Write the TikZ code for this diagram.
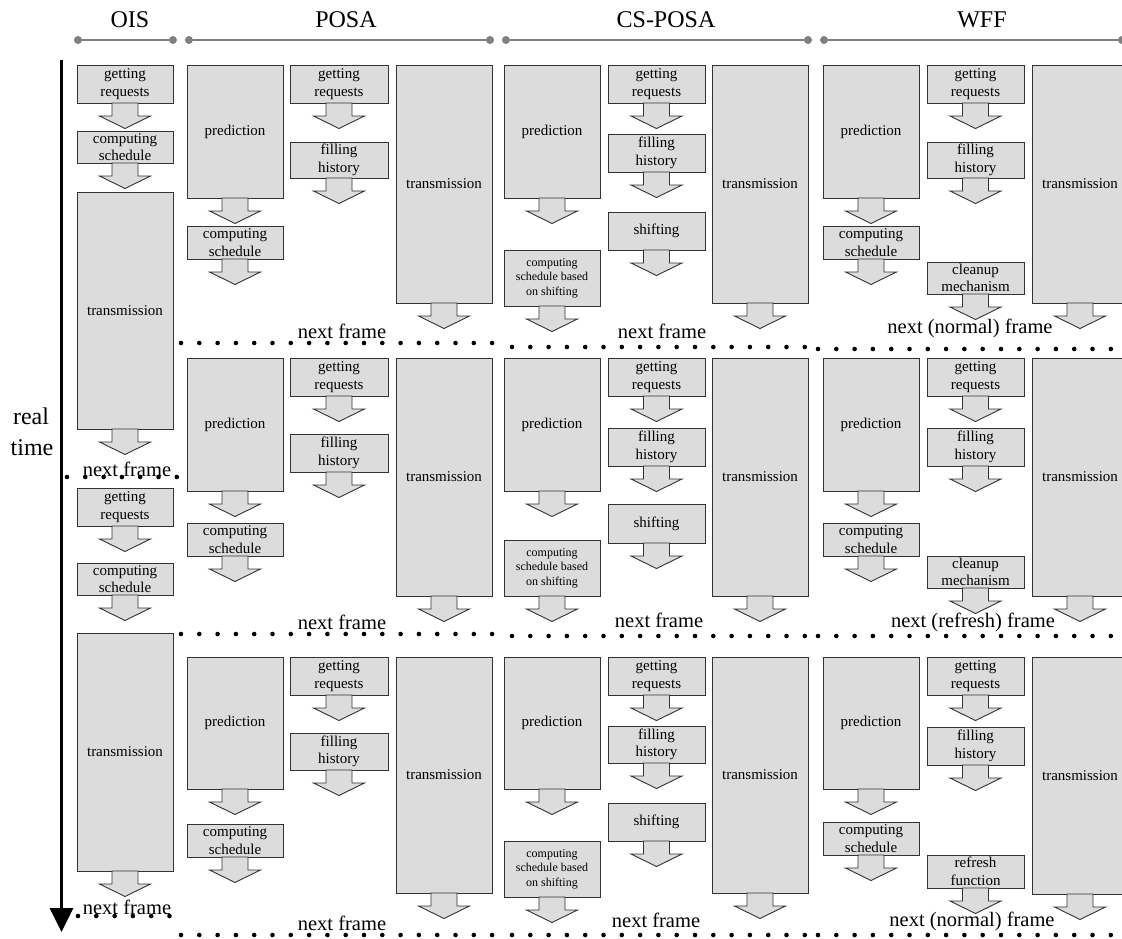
\documentclass[tikz,border=0pt]{standalone}
\usepackage{fontspec}
\setmainfont{Liberation Serif}
\usetikzlibrary{arrows.meta}

\definecolor{boxfill}{HTML}{DCDCDC}
\definecolor{boxline}{HTML}{333333}
\definecolor{bargray}{HTML}{808080}

\tikzset{
  blkbox/.style={draw=boxline, fill=boxfill, line width=0.9pt, inner sep=0pt,
    outer sep=0pt, align=center, font=\fontsize{15}{17.5}\selectfont},
  blkarrow/.style={draw=boxline, fill=boxfill, line width=0.9pt, line join=miter},
  smalltext/.style={font=\fontsize{12}{14.5}\selectfont},
  frametext/.style={anchor=base, inner sep=0pt, font=\fontsize{20.5}{24}\selectfont},
  headtext/.style={anchor=base, inner sep=0pt, font=\fontsize{24}{28}\selectfont},
  dotrow/.style={line width=4.6pt, line cap=round, dash pattern=on 0pt off 18.3pt},
  bar/.style={draw=bargray, line width=2pt},
}

% step box with its outgoing down arrow: [options]{name}{x1}{y1}{x2}{y2}{text}
\newcommand\blk[7][]{%
  \node[blkbox,#1,minimum width={(#5)-(#3)},minimum height={(#6)-(#4)}]
    (#2) at ({((#3)+(#5))/2},{((#4)+(#6))/2}) {#7};
  \draw[blkarrow] ([xshift=-13pt]#2.south) -- ++(0,13) -- ++(-12.5,0)
    -- ++(25.5,12.5) -- ++(25.5,-12.5) -- ++(-12.5,0) -- ++(0,-13) -- cycle;
}

\begin{document}
\begin{tikzpicture}[x=1pt,y=-1pt]
\useasboundingbox (0,0) rectangle (1122,938);
\clip (0,0) rectangle (1122,938);

% ---- column headers ----
\node[headtext] (hOIS)  at (130,27) {OIS};
\node[headtext] (hPOSA) at (346,27) {POSA};
\node[headtext] (hCS)   at (666,27) {CS-POSA};
\node[headtext] (hWFF)  at (982,27) {WFF};
\foreach \a/\b in {78/173, 189/490, 506/808, 824/1122}{
  \draw[bar] (\a,40) -- (\b,40);
  \fill[bargray] (\a,40) circle (4pt) (\b,40) circle (4pt);
}

% ---- time axis ----
\coordinate (tTop) at (61.5,60);
\coordinate (tEnd) at (61.5,932);
\draw[line width=3pt, -{Triangle[width=23pt,length=24pt]}] (tTop) -- (tEnd);
\node[anchor=base, inner sep=0pt, font=\fontsize{24}{28}\selectfont] (lReal) at (31,424) {real};
\node[anchor=base, inner sep=0pt, font=\fontsize{24}{28}\selectfont] (lTime) at (32,455) {time};

% ---- OIS ----
\blk{oReq1}{77}{65}{173}{103}{getting\\requests}
\blk{oSch1}{77}{131}{173}{163}{computing\\schedule}
\blk{oTx1}{77}{192}{173}{429}{transmission}
\blk{oReq2}{77}{488}{173}{526}{getting\\requests}
\blk{oSch2}{77}{563}{173}{595}{computing\\schedule}
\blk{oTx2}{77}{633}{173}{871}{transmission}

% ---- POSA ----
\blk{pPred1}{187}{65}{283}{198}{prediction}
\blk{pSch1}{187}{226}{283}{259}{computing\\schedule}
\blk{pReq1}{290}{65}{388}{103}{getting\\requests}
\blk{pFill1}{290}{142}{388}{178}{filling\\history}
\blk{pTx1}{396}{65}{492}{303}{transmission}

\blk{pPred2}{187}{358}{283}{491}{prediction}
\blk{pSch2}{187}{523}{283}{556}{computing\\schedule}
\blk{pReq2}{290}{358}{388}{396}{getting\\requests}
\blk{pFill2}{290}{434}{388}{472}{filling\\history}
\blk{pTx2}{396}{358}{492}{596}{transmission}

\blk{pPred3}{187}{657}{283}{789}{prediction}
\blk{pSch3}{187}{824}{283}{857}{computing\\schedule}
\blk{pReq3}{290}{657}{388}{695}{getting\\requests}
\blk{pFill3}{290}{733}{388}{770}{filling\\history}
\blk{pTx3}{396}{657}{492}{893}{transmission}

% ---- CS-POSA ----
\blk{cPred1}{504}{65}{600}{198}{prediction}
\blk[smalltext]{cSch1}{504}{250}{600}{306}{computing\\schedule based\\on shifting}
\blk{cReq1}{608}{65}{705}{103}{getting\\requests}
\blk{cFill1}{608}{134}{705}{172}{filling\\history}
\blk{cShift1}{608}{212}{705}{250}{shifting}
\blk{cTx1}{712}{65}{808}{303}{transmission}

\blk{cPred2}{504}{358}{600}{491}{prediction}
\blk[smalltext]{cSch2}{504}{540}{600}{596}{computing\\schedule based\\on shifting}
\blk{cReq2}{608}{358}{705}{396}{getting\\requests}
\blk{cFill2}{608}{428}{705}{466}{filling\\history}
\blk{cShift2}{608}{504}{705}{543}{shifting}
\blk{cTx2}{712}{358}{808}{596}{transmission}

\blk{cPred3}{504}{657}{600}{789}{prediction}
\blk[smalltext]{cSch3}{504}{841}{600}{897}{computing\\schedule based\\on shifting}
\blk{cReq3}{608}{657}{705}{695}{getting\\requests}
\blk{cFill3}{608}{726}{705}{763}{filling\\history}
\blk{cShift3}{608}{803}{705}{841}{shifting}
\blk{cTx3}{712}{657}{808}{893}{transmission}

% ---- WFF ----
\blk{wPred1}{823}{65}{919}{198}{prediction}
\blk{wSch1}{823}{226}{919}{259}{computing\\schedule}
\blk{wReq1}{927}{65}{1024}{103}{getting\\requests}
\blk{wFill1}{927}{142}{1024}{178}{filling\\history}
\blk{wClean1}{927}{262}{1024}{294}{cleanup\\mechanism}
\blk{wTx1}{1032}{65}{1128}{303}{transmission}

\blk{wPred2}{823}{358}{919}{491}{prediction}
\blk{wSch2}{823}{523}{919}{556}{computing\\schedule}
\blk{wReq2}{927}{358}{1024}{396}{getting\\requests}
\blk{wFill2}{927}{428}{1024}{466}{filling\\history}
\blk{wClean2}{927}{556}{1024}{588}{cleanup\\mechanism}
\blk{wTx2}{1032}{358}{1128}{596}{transmission}

\blk{wPred3}{823}{657}{919}{789}{prediction}
\blk{wSch3}{823}{822}{919}{855}{computing\\schedule}
\blk{wReq3}{927}{657}{1024}{695}{getting\\requests}
\blk{wFill3}{927}{727}{1024}{765}{filling\\history}
\blk{wRef3}{927}{855}{1024}{888}{refresh\\function}
\blk{wTx3}{1032}{657}{1128}{894}{transmission}

% ---- frame boundaries ----
\draw[dotrow] (67,477) -- (178,477);
\draw[dotrow] (78,916) -- (171,916);
\foreach \ya/\yb/\yc in {343/347/349, 634/636/636, 935/935/935}{
  \draw[dotrow] (181,\ya) -- (494,\ya);
  \draw[dotrow] (512,\yb) -- (809,\yb);
  \draw[dotrow] (818,\yc) -- (1122,\yc);
}

% ---- frame labels ----
\node[frametext] (nfO1) at (127,476) {next frame};
\node[frametext] (nfO2) at (127,914) {next frame};
\node[frametext] (nfP1) at (342,338) {next frame};
\node[frametext] (nfP2) at (342,629) {next frame};
\node[frametext] (nfP3) at (342,930) {next frame};
\node[frametext] (nfC1) at (662,338) {next frame};
\node[frametext] (nfC2) at (659,627) {next frame};
\node[frametext] (nfC3) at (656,927) {next frame};
\node[frametext] (nfW1) at (970,333) {next (normal) frame};
\node[frametext] (nfW2) at (973,627) {next (refresh) frame};
\node[frametext] (nfW3) at (972,926) {next (normal) frame};
\end{tikzpicture}
\end{document}
